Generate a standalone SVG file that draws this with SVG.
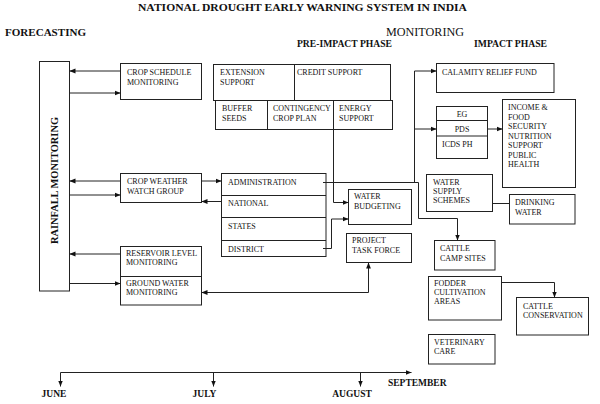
<svg xmlns="http://www.w3.org/2000/svg" width="600" height="404" viewBox="0 0 600 404">
<style>
.bg{fill:#fff}
.box{fill:#fff;stroke:#222;stroke-width:1}
.ln{fill:none;stroke:#222;stroke-width:1}
.t{font-family:"Liberation Serif","Times New Roman",serif;font-size:8px;fill:#111}
.h{font-family:"Liberation Serif","Times New Roman",serif;font-weight:bold;fill:#111}
.hr{font-family:"Liberation Serif","Times New Roman",serif;fill:#111}
</style>
<defs>
<marker id="ah" viewBox="0 0 10 10" refX="10" refY="5" markerWidth="6" markerHeight="6" orient="auto-start-reverse" markerUnits="userSpaceOnUse">
<path d="M0,1 L10,5 L0,9 z" fill="#111"/>
</marker>
</defs>
<rect class="bg" x="0" y="0" width="600" height="404"/>

<g id="headings">
<text class="h" x="138" y="11" font-size="11.4" textLength="329" lengthAdjust="spacingAndGlyphs">NATIONAL DROUGHT EARLY WARNING SYSTEM IN INDIA</text>
<text class="h" x="5" y="36" font-size="11" textLength="81" lengthAdjust="spacingAndGlyphs">FORECASTING</text>
<text class="hr" x="386" y="36" font-size="12" textLength="78" lengthAdjust="spacingAndGlyphs">MONITORING</text>
<text class="h" x="297" y="47" font-size="9.5" textLength="95" lengthAdjust="spacingAndGlyphs">PRE-IMPACT PHASE</text>
<text class="h" x="474" y="47" font-size="9.5" textLength="73" lengthAdjust="spacingAndGlyphs">IMPACT PHASE</text>
</g>

<g id="rainfall">
<rect class="box" x="39.5" y="61.5" width="30" height="229.5"/>
<text class="h" font-size="10" transform="translate(57.5,180.5) rotate(-90)" text-anchor="middle" textLength="127" lengthAdjust="spacingAndGlyphs">RAINFALL MONITORING</text>
</g>

<g id="crop-schedule">
<rect class="box" x="120.5" y="63.5" width="81" height="36"/>
<text class="t" x="127" y="75">CROP SCHEDULE</text>
<text class="t" x="127" y="85">MONITORING</text>
</g>

<g id="crop-weather">
<rect class="box" x="120.5" y="173.5" width="81" height="29"/>
<text class="t" x="127" y="184">CROP WEATHER</text>
<text class="t" x="127" y="194">WATCH GROUP</text>
</g>

<g id="reservoir">
<rect class="box" x="120.5" y="246.5" width="81" height="30"/>
<text class="t" x="126" y="256">RESERVOIR LEVEL</text>
<text class="t" x="126" y="265">MONITORING</text>
</g>

<g id="groundwater">
<rect class="box" x="120.5" y="276.5" width="81" height="28.5"/>
<text class="t" x="126" y="286">GROUND WATER</text>
<text class="t" x="126" y="295">MONITORING</text>
</g>

<g id="pre-impact-support">
<rect class="box" x="213.5" y="64.5" width="177" height="36"/>
<line class="ln" x1="294.5" y1="64.5" x2="294.5" y2="100.5"/>
<text class="t" x="220" y="75">EXTENSION</text>
<text class="t" x="220" y="85">SUPPORT</text>
<text class="t" x="297" y="75">CREDIT SUPPORT</text>
</g>

<g id="pre-impact-plans">
<rect class="box" x="215.5" y="100.5" width="177" height="29"/>
<line class="ln" x1="267.5" y1="100.5" x2="267.5" y2="129.5"/>
<line class="ln" x1="333.5" y1="100.5" x2="333.5" y2="129.5"/>
<text class="t" x="222" y="111">BUFFER</text>
<text class="t" x="222" y="121">SEEDS</text>
<text class="t" x="273" y="111">CONTINGENCY</text>
<text class="t" x="273" y="121">CROP PLAN</text>
<text class="t" x="339" y="111">ENERGY</text>
<text class="t" x="339" y="121">SUPPORT</text>
</g>

<g id="administration">
<rect class="box" x="221.5" y="173.5" width="104.5" height="83"/>
<line class="ln" x1="221.5" y1="195.5" x2="326" y2="195.5"/>
<line class="ln" x1="221.5" y1="217.5" x2="326" y2="217.5" stroke-width="1.8"/>
<line class="ln" x1="221.5" y1="240.5" x2="326" y2="240.5" stroke-width="1.8"/>
<text class="t" x="228" y="185">ADMINISTRATION</text>
<text class="t" x="228" y="206">NATIONAL</text>
<text class="t" x="228" y="228.5">STATES</text>
<text class="t" x="228" y="252">DISTRICT</text>
</g>

<g id="water-budgeting">
<rect class="box" x="348.5" y="189.5" width="63" height="35"/>
<text class="t" x="354" y="199">WATER</text>
<text class="t" x="354" y="209">BUDGETING</text>
</g>

<g id="project-task-force">
<rect class="box" x="346.5" y="233.5" width="65" height="29"/>
<text class="t" x="352" y="243">PROJECT</text>
<text class="t" x="352" y="252.5">TASK FORCE</text>
</g>

<g id="calamity">
<rect class="box" x="436.5" y="63.5" width="117.5" height="29"/>
<text class="t" x="442" y="74.5">CALAMITY RELIEF FUND</text>
</g>

<g id="eg-pds-icds">
<rect class="box" x="436.5" y="106.5" width="51" height="52"/>
<line class="ln" x1="436.5" y1="120.5" x2="487.5" y2="120.5"/>
<line class="ln" x1="436.5" y1="136" x2="487.5" y2="136"/>
<text class="t" x="462" y="117" text-anchor="middle">EG</text>
<text class="t" x="462" y="132" text-anchor="middle">PDS</text>
<text class="t" x="442" y="147">ICDS PH</text>
</g>

<g id="income">
<rect class="box" x="502.5" y="99.5" width="73" height="88"/>
<text class="t" x="508" y="110">INCOME &amp;</text>
<text class="t" x="508" y="119.5">FOOD</text>
<text class="t" x="508" y="129">SECURITY</text>
<text class="t" x="508" y="138.5">NUTRITION</text>
<text class="t" x="508" y="148">SUPPORT</text>
<text class="t" x="508" y="157.5">PUBLIC</text>
<text class="t" x="508" y="167">HEALTH</text>
</g>

<g id="water-supply">
<rect class="box" x="426.5" y="174.5" width="66" height="37"/>
<text class="t" x="433" y="184.5">WATER</text>
<text class="t" x="433" y="193.5">SUPPLY</text>
<text class="t" x="433" y="202.5">SCHEMES</text>
</g>

<g id="drinking-water">
<rect class="box" x="509.5" y="194.5" width="65.5" height="29.5"/>
<text class="t" x="515" y="205">DRINKING</text>
<text class="t" x="515" y="214.5">WATER</text>
</g>

<g id="cattle-camp">
<rect class="box" x="434.5" y="240.5" width="60.5" height="29.5"/>
<text class="t" x="440" y="251">CATTLE</text>
<text class="t" x="440" y="261">CAMP SITES</text>
</g>

<g id="fodder">
<rect class="box" x="428.5" y="276.5" width="73" height="43.5"/>
<text class="t" x="434" y="285.5">FODDER</text>
<text class="t" x="434" y="294.5">CULTIVATION</text>
<text class="t" x="434" y="303.5">AREAS</text>
</g>

<g id="cattle-conservation">
<rect class="box" x="516.5" y="297.5" width="72" height="37.5"/>
<text class="t" x="523" y="308.5">CATTLE</text>
<text class="t" x="523" y="318">CONSERVATION</text>
</g>

<g id="veterinary">
<rect class="box" x="428.5" y="334.5" width="66.5" height="29.5"/>
<text class="t" x="434" y="344.5">VETERINARY</text>
<text class="t" x="434" y="354">CARE</text>
</g>

<g id="connectors">
<path class="ln" d="M120.5,71 H69.5" marker-end="url(#ah)"/>
<path class="ln" d="M69.5,93 H120.5" marker-end="url(#ah)"/>
<path class="ln" d="M120.5,181 H69.5" marker-end="url(#ah)"/>
<path class="ln" d="M69.5,195 H120.5" marker-end="url(#ah)"/>
<path class="ln" d="M120.5,254 H69.5" marker-end="url(#ah)"/>
<path class="ln" d="M69.5,283.5 H120.5" marker-end="url(#ah)"/>
<path class="ln" d="M201.5,181 H221.5" marker-end="url(#ah)"/>
<path class="ln" d="M221.5,201.5 H201.5" marker-end="url(#ah)"/>
<path class="ln" d="M323,182.5 H418.5 V218.5 H457.5 V240.5" marker-end="url(#ah)"/>
<path class="ln" d="M414.5,182.5 V71 H436.5" marker-end="url(#ah)"/>
<path class="ln" d="M414.5,129 H436.5" marker-end="url(#ah)"/>
<path class="ln" d="M487.5,129 H502.5" marker-end="url(#ah)"/>
<path class="ln" d="M333.5,129.5 V202.5 H348.5" marker-end="url(#ah)"/>
<path class="ln" d="M323,248.5 H331.5 V219 H348.5" marker-end="url(#ah)"/>
<path class="ln" d="M201.5,292.5 H368.5 V262.5" marker-start="url(#ah)" marker-end="url(#ah)"/>
<path class="ln" d="M492.5,203.5 H509.5"/>
<path class="ln" d="M501.5,282.5 H554.5 V297.5" marker-end="url(#ah)"/>
</g>

<g id="timeline">
<path class="ln" d="M60.5,372.5 H411.5" marker-end="url(#ah)"/>
<path class="ln" d="M60.5,372.5 V386.5" marker-end="url(#ah)"/>
<path class="ln" d="M213.5,372.5 V386.5" marker-end="url(#ah)"/>
<path class="ln" d="M360.5,372.5 V386.5" marker-end="url(#ah)"/>
<text class="h" x="54" y="397" font-size="9.5" text-anchor="middle">JUNE</text>
<text class="h" x="204.5" y="397" font-size="9.5" text-anchor="middle">JULY</text>
<text class="h" x="352" y="397" font-size="9.5" text-anchor="middle">AUGUST</text>
<text class="h" x="388" y="385.5" font-size="9.5" textLength="58.5" lengthAdjust="spacingAndGlyphs">SEPTEMBER</text>
</g>
</svg>
